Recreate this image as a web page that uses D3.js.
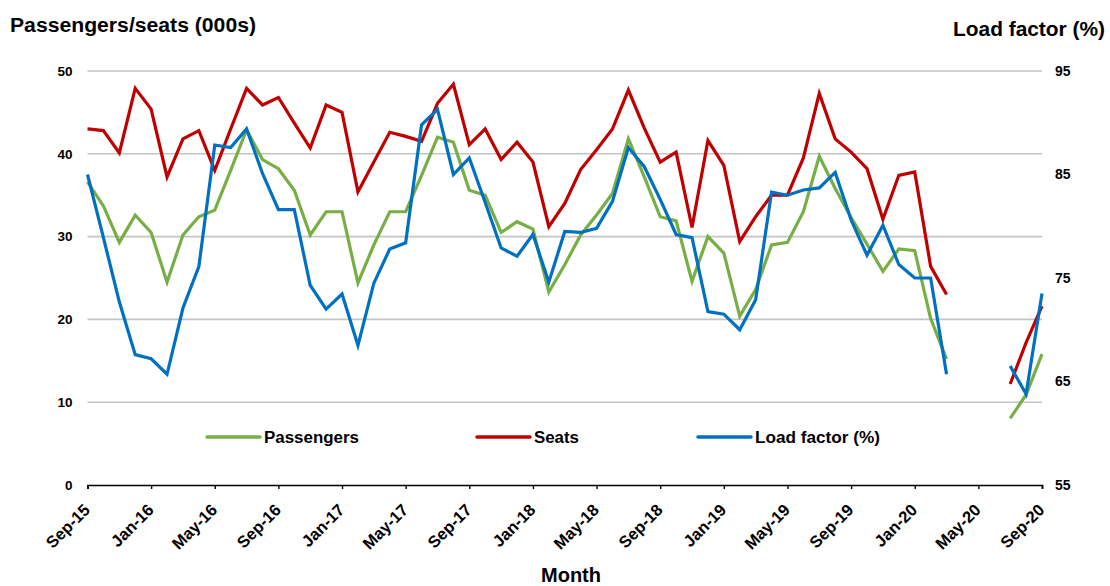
<!DOCTYPE html>
<html>
<head>
<meta charset="utf-8">
<script src="https://cdn.jsdelivr.net/npm/d3@7"></script>
<style>
  html, body { margin: 0; padding: 0; background: #fff; }
  svg { display: block; font-family: Arial, "Liberation Sans", sans-serif; }
</style>
</head>
<body>
<svg id="chart" width="1110" height="586"></svg>
<script>
const months = [
  "Sep-15","Oct-15","Nov-15","Dec-15","Jan-16","Feb-16","Mar-16","Apr-16","May-16","Jun-16","Jul-16","Aug-16",
  "Sep-16","Oct-16","Nov-16","Dec-16","Jan-17","Feb-17","Mar-17","Apr-17","May-17","Jun-17","Jul-17","Aug-17",
  "Sep-17","Oct-17","Nov-17","Dec-17","Jan-18","Feb-18","Mar-18","Apr-18","May-18","Jun-18","Jul-18","Aug-18",
  "Sep-18","Oct-18","Nov-18","Dec-18","Jan-19","Feb-19","Mar-19","Apr-19","May-19","Jun-19","Jul-19","Aug-19",
  "Sep-19","Oct-19","Nov-19","Dec-19","Jan-20","Feb-20","Mar-20","Apr-20","May-20","Jun-20","Jul-20","Aug-20",
  "Sep-20"
];
const tickLabels = ["Sep-15","Jan-16","May-16","Sep-16","Jan-17","May-17","Sep-17","Jan-18","May-18","Sep-18","Jan-19","May-19","Sep-19","Jan-20","May-20","Sep-20"];

const passengers = [
  36.6,33.7,29.3,32.6,30.5,24.5,30.2,32.4,33.2,38.0,42.9,39.3,
  38.2,35.6,30.2,33.0,33.0,24.4,29.0,33.0,33.0,37.4,42.0,41.4,
  35.6,35.0,30.5,31.8,30.9,23.3,26.6,30.2,32.6,35.2,41.8,37.2,
  32.4,31.9,24.6,30.0,28.0,20.4,23.6,29.0,29.3,33.0,39.7,35.8,
  32.3,29.1,25.8,28.5,28.3,20.1,15.2,null,null,null,8.05,10.9,
  15.8
];
const seats = [
  43.0,42.8,40.1,47.9,45.4,37.2,41.8,42.8,38.0,43.0,47.9,45.9,
  46.8,43.7,40.7,45.9,45.0,35.4,39.0,42.6,42.1,41.5,46.1,48.4,
  41.1,43.0,39.3,41.4,39.0,31.2,34.0,38.1,40.5,43.0,47.7,43.1,
  39.0,40.2,31.1,41.6,38.6,29.4,32.4,35.0,35.0,39.5,47.3,41.8,
  40.2,38.2,32.1,37.4,37.8,26.4,23.0,null,null,null,12.2,17.2,
  21.6
];
const loadFactor = [
  85.0,78.9,72.7,67.6,67.2,65.7,72.1,76.1,87.85,87.6,89.4,85.1,
  81.6,81.6,74.3,72.0,73.45,68.5,74.5,77.8,78.4,89.8,91.3,85.0,
  86.6,82.3,77.9,77.1,79.2,74.6,79.5,79.4,79.8,82.4,87.6,85.75,
  82.6,79.2,78.9,71.75,71.5,70.0,72.9,83.3,83.0,83.5,83.7,85.2,
  80.6,77.2,80.1,76.3,75.0,75.0,65.7,null,null,null,66.5,63.8,
  73.5
];
const leftTicks = [0,10,20,30,40,50];
const rightTicks = [55,65,75,85,95];
const seriesNames = ["Passengers","Seats","Load factor (%)"];
const seriesColors = ["#77AE45","#C00000","#0070C0"];

const svg = d3.select("#chart");
const x = d3.scaleLinear().domain([0, months.length - 1]).range([87.5, 1042]);
const yL = d3.scaleLinear().domain([0, 50]).range([485, 71]);
const yR = d3.scaleLinear().domain([55, 95]).range([485, 71]);

// gridlines
svg.append("g").selectAll("line").data(leftTicks.filter(d => d > 0)).join("line")
  .attr("x1", x(0)).attr("x2", x(months.length - 1))
  .attr("y1", d => yL(d)).attr("y2", d => yL(d))
  .attr("stroke", "#c4c4c4").attr("stroke-width", 1.6);

// left axis labels
const gl = svg.append("g").attr("transform", `translate(${x(0)},0)`)
  .call(d3.axisLeft(yL).tickValues(leftTicks).tickSize(0).tickPadding(15).tickFormat(d3.format("d")));
gl.select(".domain").remove();
gl.selectAll("text").attr("font-size", 13.5).attr("font-weight", "bold").attr("fill", "#000")
  .attr("font-family", "Arial, 'Liberation Sans', sans-serif");

// right axis labels
const gr = svg.append("g").attr("transform", `translate(${x(months.length - 1)},0)`)
  .call(d3.axisRight(yR).tickValues(rightTicks).tickSize(0).tickPadding(13).tickFormat(d3.format("d")));
gr.select(".domain").remove();
gr.selectAll("text").attr("font-size", 14).attr("font-weight", "bold").attr("fill", "#000")
  .attr("font-family", "Arial, 'Liberation Sans', sans-serif");

// bottom axis
const tickIdx = tickLabels.map(t => months.indexOf(t));
const gb = svg.append("g").attr("transform", `translate(0,${yL(0)})`)
  .call(d3.axisBottom(x).tickValues(tickIdx).tickSize(4).tickFormat(i => months[i]));
gb.select(".domain").attr("stroke", "#000").attr("stroke-width", 1.6);
gb.selectAll(".tick line").attr("stroke", "#000").attr("stroke-width", 1.4);
gb.selectAll("text")
  .attr("font-size", 16.5).attr("font-weight", "bold").attr("fill", "#000")
  .attr("font-family", "Arial, 'Liberation Sans', sans-serif")
  .attr("text-anchor", "end")
  .attr("x", 0).attr("y", 0).attr("dy", 0)
  .attr("transform", "translate(3,26) rotate(-45)");

// lines
const lineL = d3.line().defined(d => d != null).x((d, i) => x(i)).y(d => yL(d));
const lineR = d3.line().defined(d => d != null).x((d, i) => x(i)).y(d => yR(d));
svg.append("path").datum(passengers).attr("d", lineL)
  .attr("fill", "none").attr("stroke", seriesColors[0]).attr("stroke-width", 3.2).attr("stroke-linejoin", "miter");
svg.append("path").datum(seats).attr("d", lineL)
  .attr("fill", "none").attr("stroke", seriesColors[1]).attr("stroke-width", 3.2).attr("stroke-linejoin", "miter");
svg.append("path").datum(loadFactor).attr("d", lineR)
  .attr("fill", "none").attr("stroke", seriesColors[2]).attr("stroke-width", 3.2).attr("stroke-linejoin", "miter");

// legend
const legX = [207, 477, 698];
const legW = [95, 45, 125];
const leg = svg.append("g");
seriesNames.forEach((name, k) => {
  leg.append("line").attr("x1", legX[k]).attr("x2", legX[k] + 53).attr("y1", 437).attr("y2", 437)
    .attr("stroke", seriesColors[k]).attr("stroke-width", 3.5).attr("stroke-linecap", "round");
  leg.append("text").attr("x", legX[k] + 57).attr("y", 443).text(name)
    .attr("font-size", 16).attr("font-weight", "bold").attr("fill", "#000")
    .attr("textLength", legW[k]).attr("lengthAdjust", "spacingAndGlyphs");
});

// titles
svg.append("text").attr("x", 10).attr("y", 32).text("Passengers/seats (000s)")
  .attr("font-size", 20).attr("font-weight", "bold").attr("textLength", 246).attr("lengthAdjust", "spacingAndGlyphs");
svg.append("text").attr("x", 1105).attr("y", 36).attr("text-anchor", "end").text("Load factor (%)")
  .attr("font-size", 20).attr("font-weight", "bold").attr("textLength", 152).attr("lengthAdjust", "spacingAndGlyphs");
svg.append("text").attr("x", 571).attr("y", 582).attr("text-anchor", "middle").text("Month")
  .attr("font-size", 20).attr("font-weight", "bold");
</script>
</body>
</html>
